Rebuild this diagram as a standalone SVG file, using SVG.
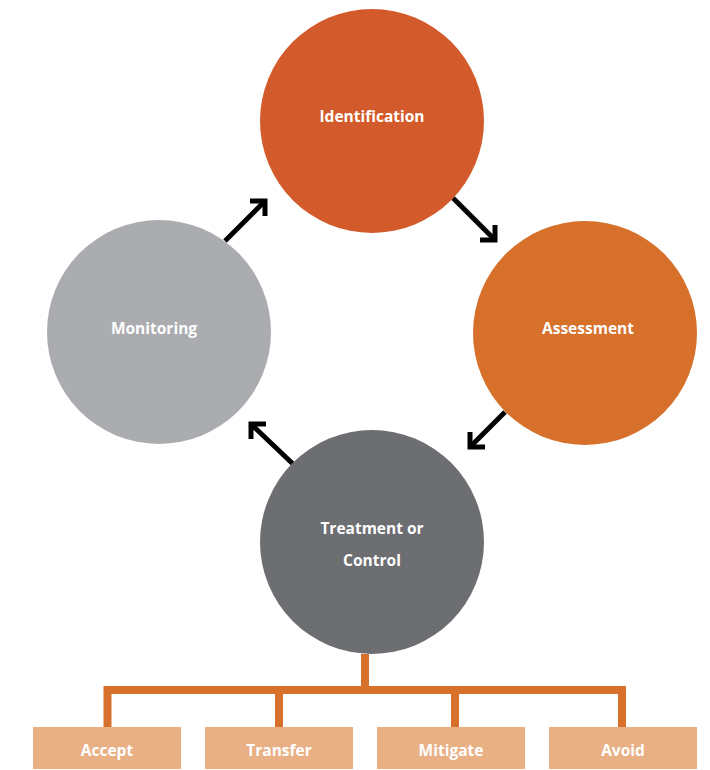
<svg xmlns="http://www.w3.org/2000/svg" width="710" height="770" viewBox="0 0 710 770">
<style>
.lbl{font-family:"Open Sans","Liberation Sans",sans-serif;font-weight:bold;font-size:15.5px;fill:#ffffff;text-anchor:middle}
.arrow{stroke:#000;stroke-width:5;fill:none}
.head{stroke:#000;stroke-width:5;fill:none;stroke-linejoin:miter}
.conn{stroke:#D6702B;stroke-width:8;fill:none;stroke-linejoin:miter}
.box{fill:#E9AF85}
</style>
<rect width="710" height="770" fill="#fff"/>
<g id="connectors">
<g id="arrows">
<line class="arrow" x1="225" y1="241" x2="264" y2="202"/>
<polyline class="head" points="250,201 265,201 265,216"/>
<line class="arrow" x1="453" y1="198" x2="494" y2="239"/>
<polyline class="head" points="495,225 495,240 480,240"/>
<line class="arrow" x1="505" y1="412" x2="471" y2="446"/>
<polyline class="head" points="470,432 470,447 485,447"/>
<line class="arrow" x1="293" y1="464" x2="252" y2="425"/>
<polyline class="head" points="251,439 251,424 266,424"/>
</g>
<path class="conn" d="M365,654 V690 M107.5,727 V690 H622 V727 M279,690 V727 M455,690 V727"/>
</g>
<g id="identification">
<circle cx="372" cy="121" r="112" fill="#D35A2A"/>
<text class="lbl" x="372" y="122">Identification</text>
</g>
<g id="assessment">
<circle cx="585" cy="333" r="112" fill="#D6702A"/>
<text class="lbl" x="588" y="334">Assessment</text>
</g>
<g id="monitoring">
<circle cx="159" cy="332" r="112" fill="#ABACAF"/>
<text class="lbl" x="154" y="334">Monitoring</text>
</g>
<g id="treatment">
<circle cx="372" cy="542" r="112" fill="#6D6E71"/>
<text class="lbl" x="372" y="534">Treatment or</text>
<text class="lbl" x="372" y="566">Control</text>
</g>
<g id="accept">
<rect class="box" x="33" y="727" width="148" height="42"/>
<text class="lbl" x="107" y="756">Accept</text>
</g>
<g id="transfer">
<rect class="box" x="205" y="727" width="148" height="42"/>
<text class="lbl" x="279" y="756">Transfer</text>
</g>
<g id="mitigate">
<rect class="box" x="377" y="727" width="148" height="42"/>
<text class="lbl" x="451" y="756">Mitigate</text>
</g>
<g id="avoid">
<rect class="box" x="549" y="727" width="148" height="42"/>
<text class="lbl" x="623" y="756">Avoid</text>
</g>
</svg>
